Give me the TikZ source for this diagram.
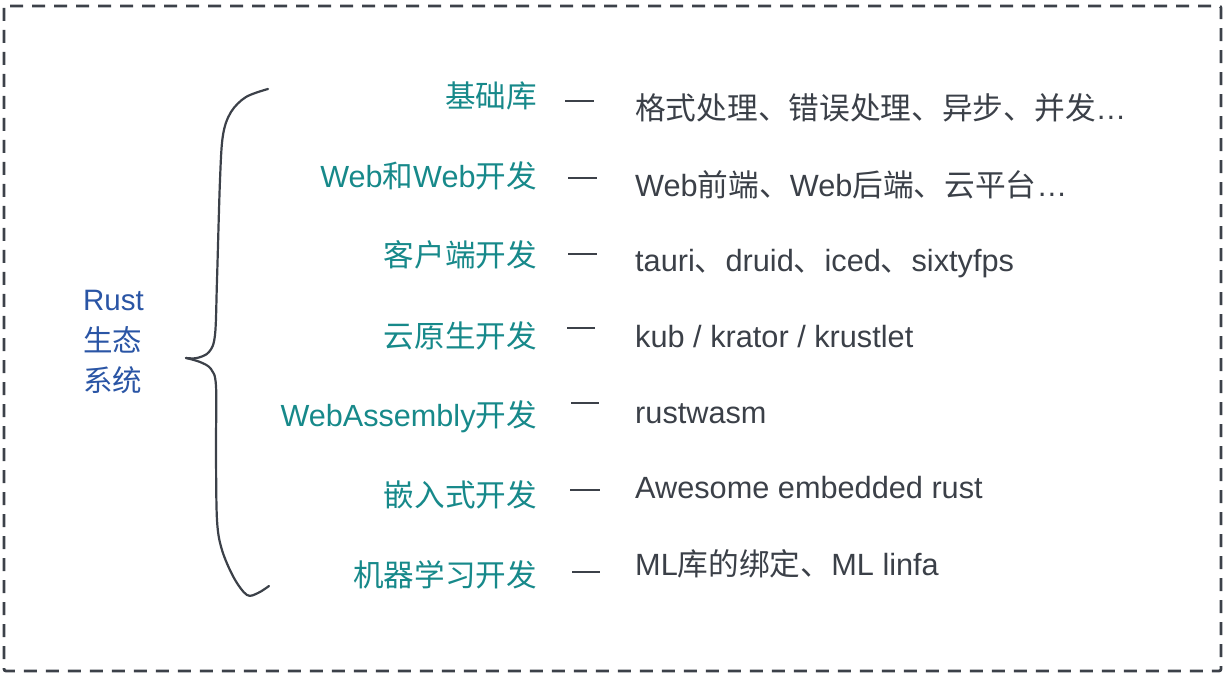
\documentclass[tikz,border=0pt]{standalone}
\usepackage{fontspec}
\setmainfont{Liberation Sans}
\newfontfamily\cjk{Noto Sans CJK SC}
\newcommand\zh[1]{{\cjk #1}}
\definecolor{teal1}{HTML}{17898A}
\definecolor{blue1}{HTML}{2A55A5}
\definecolor{ink}{HTML}{3B4048}
\definecolor{lineclr}{HTML}{3C4149}
\begin{document}
\begin{tikzpicture}[x=1pt,y=-1pt,
  lbl/.style={anchor=base east,inner sep=0pt,text=teal1,font=\fontsize{30.6}{36}\selectfont},
  desc/.style={anchor=base west,inner sep=0pt,text=ink,font=\fontsize{30.7}{36}\selectfont},
  root/.style={anchor=base west,inner sep=0pt,text=blue1,font=\fontsize{29.5}{35}\selectfont},
  dashline/.style={draw=lineclr,line width=2.3pt},
  bracel/.style={draw=lineclr,line width=2.2pt,line cap=round,line join=round}]
\useasboundingbox (0,0) rectangle (1226,676);
\draw[draw=lineclr,line width=2.8pt,dash pattern=on 13pt off 9pt,rounded corners=2pt] (4,6) rectangle (1221,671);

% root
\node[root] (r1) at (83,310) {Rust};
\node[root] (r2) at (83,351) {\zh{生态}};
\node[root] (r3) at (83,391) {\zh{系统}};

% brace
\draw[bracel] plot[smooth,tension=0.55] coordinates {(268,89) (246,97) (231,112) (223,135) (220,180) (217,280) (215,335) (209,352) (197,358) (186,358)};
\draw[bracel] plot[smooth,tension=0.55] coordinates {(186,358) (200,362) (211,369) (216,386) (216,450) (217,520) (222,550) (234,578) (247,595) (258,593) (269,586)};

% categories
\node[lbl] (c1) at (537,108) {\zh{基础库}};
\node[lbl] (c2) at (537,188) {Web\zh{和}Web\zh{开发}};
\node[lbl] (c3) at (537,267) {\zh{客户端开发}};
\node[lbl] (c4) at (537,347) {\zh{云原生开发}};
\node[lbl] (c5) at (537,426) {WebAssembly\zh{开发}};
\node[lbl] (c6) at (537,506) {\zh{嵌入式开发}};
\node[lbl] (c7) at (537,586) {\zh{机器学习开发}};

% dashes
\draw[dashline] (565,101) -- (594,101);
\draw[dashline] (568,178) -- (597,178);
\draw[dashline] (568,254) -- (597,254);
\draw[dashline] (567,328) -- (595,328);
\draw[dashline] (571,403) -- (599,403);
\draw[dashline] (570,490) -- (600,490);
\draw[dashline] (572,572) -- (600,572);

% descriptions
\node[desc] (d1) at (635,120) {\zh{格式处理、错误处理、异步、并发}…};
\node[desc] (d2) at (635,197) {Web\zh{前端、}Web\zh{后端、云平台}…};
\node[desc] (d3) at (635,272) {tauri\zh{、}druid\zh{、}iced\zh{、}sixtyfps};
\node[desc] (d4) at (635,347) {kub / krator / krustlet};
\node[desc] (d5) at (635,423) {rustwasm};
\node[desc] (d6) at (635,498) {Awesome embedded rust};
\node[desc] (d7) at (635,575) {ML\zh{库的绑定、}ML linfa};
\end{tikzpicture}
\end{document}
